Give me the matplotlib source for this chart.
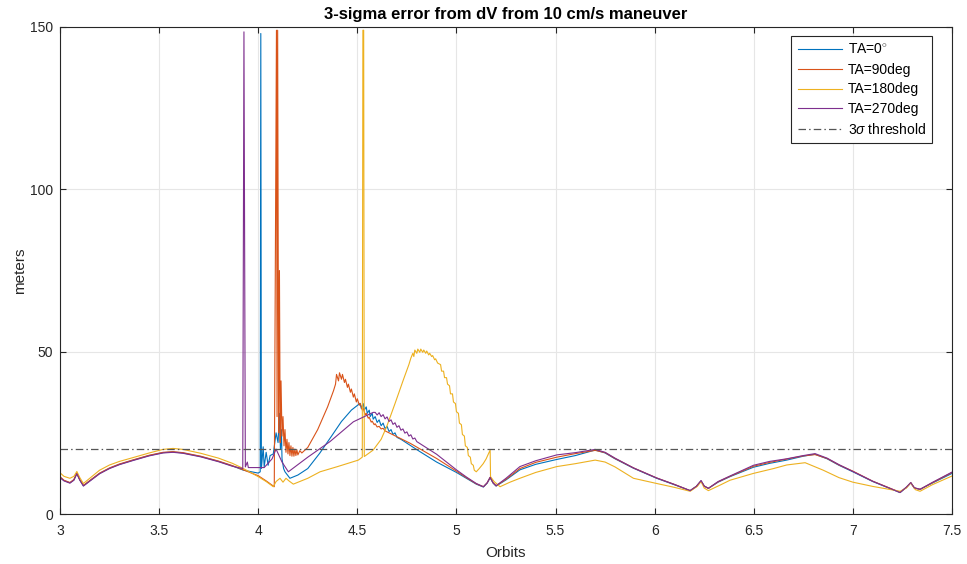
import matplotlib
matplotlib.use("Agg")
import matplotlib.pyplot as plt

plt.rcParams['font.family'] = ['Liberation Sans', 'DejaVu Sans']
plt.rcParams['mathtext.fontset'] = 'custom'
plt.rcParams['mathtext.it'] = 'Liberation Sans:italic'
plt.rcParams['mathtext.rm'] = 'Liberation Sans'

# ---------------- data ----------------
title = "3-sigma error from dV from 10 cm/s maneuver"
xlabel = "Orbits"
ylabel = "meters"
labels = ["TA=0$^{\\circ}$", "TA=90deg", "TA=180deg", "TA=270deg"]
threshold_label = "3$\\sigma$ threshold"
threshold = 20

ta0_x = [3.0, 3.02, 3.05, 3.07, 3.085, 3.1, 3.118, 3.15, 3.2, 3.25, 3.3, 3.37, 3.45, 3.52,
         3.57, 3.62, 3.71, 3.8, 3.87, 3.925, 4.0, 4.010, 4.013, 4.016,
         4.025, 4.03, 4.04, 4.05, 4.06, 4.076, 4.09, 4.1, 4.107, 4.112, 4.117, 4.12, 4.128,
         4.135, 4.16, 4.2, 4.25, 4.31, 4.37, 4.42, 4.47, 4.514, 4.52, 4.53, 4.535, 4.545,
         4.55, 4.56, 4.565, 4.575, 4.58, 4.59, 4.6, 4.61, 4.62, 4.63, 4.64, 4.65, 4.66,
         4.67, 4.68, 4.69, 4.7, 4.72, 4.816, 4.9, 5.0, 5.05, 5.1, 5.136, 5.155, 5.17,
         5.185, 5.2, 5.25, 5.32, 5.4, 5.506, 5.6, 5.7, 5.75, 5.8, 5.893, 6.01, 6.1, 6.179,
         6.21, 6.234, 6.25, 6.271, 6.32, 6.38, 6.498, 6.58, 6.666, 6.75, 6.809, 6.87, 6.93,
         7.0, 7.1, 7.238, 7.27, 7.292, 7.31, 7.339, 7.4, 7.5]
ta0_y = [11.3, 10.3, 9.6, 10.5, 12.5, 10.5, 8.7, 10.2, 12.5, 14.1, 15.3, 16.6, 18.0, 18.9,
         19.1, 18.8, 17.7, 16.2, 14.8, 13.5, 12.6, 13.0, 148.0, 14.0,
         20.7, 14.5, 19.0, 15.0, 18.0, 18.5, 25.0, 22.0, 31.0, 20.0, 26.0, 17.0, 14.0,
         13.0, 11.0, 12.0, 14.0, 18.7, 24.0, 28.5, 32.0, 34.1, 32.5, 34.0, 32.0, 33.0,
         31.0, 32.0, 30.0, 31.0, 29.2, 30.0, 28.2, 29.0, 27.2, 28.0, 26.3, 27.0, 25.4,
         26.0, 24.5, 25.0, 23.6, 23.0, 19.2, 16.0, 12.8, 11.0, 9.2, 8.3, 9.5, 11.2,
         9.5, 8.6, 10.5, 13.6, 15.3, 16.8, 18.0, 19.7, 18.8, 17.0, 14.1, 11.0, 9.0, 7.2,
         8.5, 10.2, 8.6, 7.9, 9.8, 11.5, 14.4, 15.6, 16.6, 17.8, 18.4, 17.0, 15.0,
         13.0, 10.0, 6.6, 8.2, 9.6, 8.0, 7.6, 9.5, 12.5]

ta90_x = [3.0, 3.02, 3.05, 3.07, 3.085, 3.1, 3.118, 3.15, 3.2, 3.25, 3.3, 3.37, 3.45, 3.52,
          3.57, 3.62, 3.71, 3.8, 3.87, 3.925, 4.0, 4.04, 4.081, 4.092, 4.095,
          4.098, 4.103, 4.107, 4.111, 4.115, 4.12, 4.125, 4.13, 4.135, 4.14, 4.145, 4.15,
          4.155, 4.16, 4.165, 4.17, 4.175, 4.18, 4.185, 4.19, 4.195, 4.2, 4.21, 4.22,
          4.25, 4.3, 4.35, 4.38, 4.39, 4.395, 4.405, 4.41, 4.42, 4.425, 4.435, 4.44, 4.45,
          4.455, 4.465, 4.47, 4.48, 4.485, 4.495, 4.5, 4.51, 4.515, 4.525, 4.53, 4.54,
          4.545, 4.555, 4.56, 4.57, 4.575, 4.585, 4.59, 4.6, 4.61, 4.62, 4.63, 4.64, 4.766,
          4.9, 5.0, 5.05, 5.1, 5.136, 5.155, 5.17, 5.185, 5.2, 5.25, 5.32, 5.4, 5.506, 5.6,
          5.7, 5.75, 5.8, 5.893, 6.01, 6.1, 6.179, 6.21, 6.234, 6.25, 6.271, 6.32, 6.38,
          6.498, 6.58, 6.666, 6.75, 6.809, 6.87, 6.93, 7.0, 7.1, 7.238, 7.27, 7.292, 7.31,
          7.339, 7.4, 7.5]
ta90_y = [11.5, 10.4, 9.7, 10.6, 12.6, 10.6, 8.8, 10.3, 12.6, 14.2, 15.4, 16.7, 18.1, 19.0,
          19.2, 18.9, 17.8, 16.3, 14.9, 13.6, 11.8, 10.2, 8.4, 149.0, 30.0,
          149.0, 25.0, 75.0, 22.0, 41.0, 24.0, 30.0, 21.0, 26.0, 19.0, 23.0, 18.5,
          22.0, 18.0, 21.0, 17.8, 20.5, 17.8, 20.0, 18.0, 19.8, 18.2, 19.5, 18.8,
          20.5, 26.0, 33.0, 38.0, 40.0, 43.0, 41.0, 43.5, 41.5, 43.0, 40.5, 41.5, 39.0,
          40.0, 37.5, 38.5, 36.0, 37.0, 34.5, 35.5, 33.5, 34.0, 32.0, 32.5, 30.5,
          31.0, 29.5, 29.8, 28.3, 28.6, 27.5, 27.8, 26.8, 27.0, 26.2, 26.4, 25.6, 21.8,
          17.1, 13.2, 11.2, 9.3, 8.4, 9.6, 11.3, 9.6, 8.7, 10.7, 14.0, 15.9, 17.5, 18.6,
          19.6, 18.9, 17.1, 14.2, 11.1, 9.1, 7.2, 8.5, 10.2, 8.6, 7.9, 9.9, 11.6,
          14.7, 15.9, 16.9, 17.9, 18.3, 17.1, 15.1, 13.2, 10.1, 6.7, 8.2, 9.6, 8.0,
          7.6, 9.6, 12.8]

ta180_x = [3.0, 3.02, 3.05, 3.07, 3.085, 3.1, 3.118, 3.15, 3.2, 3.25, 3.3, 3.37, 3.45, 3.52,
           3.57, 3.62, 3.71, 3.8, 3.87, 3.925, 4.0, 4.04, 4.076, 4.09, 4.11, 4.125,
           4.14, 4.155, 4.177, 4.25, 4.312, 4.4, 4.505, 4.525, 4.528, 4.532, 4.535, 4.58,
           4.62, 4.648, 4.69, 4.732, 4.76, 4.77, 4.78, 4.785, 4.79, 4.8, 4.805, 4.815, 4.82,
           4.83, 4.835, 4.845, 4.85, 4.86, 4.865, 4.875, 4.88, 4.89, 4.895, 4.905, 4.92,
           4.925, 4.935, 4.94, 4.95, 4.955, 4.965, 4.97, 4.98, 4.985, 4.995, 5.0, 5.01,
           5.015, 5.025, 5.03, 5.04, 5.045, 5.055, 5.06, 5.07, 5.075, 5.085, 5.09, 5.1,
           5.115, 5.135, 5.15, 5.17, 5.172, 5.19, 5.22, 5.27, 5.32, 5.4, 5.506, 5.6, 5.7,
           5.75, 5.8, 5.893, 6.01, 6.1, 6.179, 6.215, 6.234, 6.25, 6.271, 6.33, 6.38,
           6.498, 6.6, 6.666, 6.759, 6.85, 6.93, 7.0, 7.1, 7.238, 7.27, 7.292, 7.315,
           7.339, 7.4, 7.5]
ta180_y = [12.7, 11.6, 11.0, 11.6, 13.1, 11.2, 9.4, 11.0, 13.5, 15.1, 16.2, 17.4, 18.8, 19.9,
           20.2, 19.9, 18.7, 17.2, 15.6, 14.0, 11.5, 10.0, 8.4, 10.0, 11.0, 9.8,
           11.0, 10.2, 9.2, 11.0, 13.0, 14.6, 16.6, 17.5, 149.0, 149.0, 17.7, 19.7,
           23.0, 26.9, 34.0, 41.3, 46.0, 48.0, 49.5, 48.5, 50.5, 49.5, 50.8, 49.8, 50.8,
           49.8, 50.5, 49.5, 50.2, 49.0, 49.5, 48.5, 48.8, 47.5, 47.8, 46.5, 46.0,
           44.0, 44.0, 42.0, 42.0, 40.0, 39.5, 37.0, 37.0, 34.5, 34.0, 31.5, 31.0,
           28.0, 27.5, 24.5, 24.0, 21.0, 20.5, 18.0, 17.5, 15.5, 15.0, 13.5, 13.0,
           14.0, 15.5, 17.0, 19.7, 11.5, 10.0, 8.4, 9.8, 11.0, 12.8, 14.6, 15.5, 16.6,
           16.0, 14.5, 11.0, 9.4, 8.2, 7.0, 8.5, 10.0, 8.0, 7.2, 8.9, 10.4,
           12.5, 14.0, 15.1, 15.8, 13.5, 11.2, 9.8, 8.5, 7.0, 8.0, 9.6, 7.5,
           7.0, 9.0, 11.7]

ta270_x = [3.0, 3.02, 3.05, 3.07, 3.085, 3.1, 3.118, 3.15, 3.2, 3.25, 3.3, 3.37, 3.45, 3.52,
           3.57, 3.62, 3.71, 3.8, 3.87, 3.922, 3.928, 3.935, 3.945, 3.95,
           4.03, 4.07, 4.09, 4.12, 4.152, 4.25, 4.362, 4.48, 4.58, 4.59, 4.6, 4.61, 4.62,
           4.63, 4.64, 4.65, 4.66, 4.67, 4.68, 4.69, 4.7, 4.71, 4.72, 4.73, 4.74, 4.75, 4.76,
           4.77, 4.78, 4.79, 4.8, 4.9, 5.0, 5.05, 5.1, 5.136, 5.155, 5.17, 5.185, 5.2, 5.25,
           5.32, 5.4, 5.506, 5.6, 5.7, 5.75, 5.8, 5.893, 6.01, 6.1, 6.179, 6.21, 6.234, 6.25,
           6.271, 6.32, 6.38, 6.498, 6.58, 6.666, 6.75, 6.809, 6.87, 6.93, 7.0, 7.1, 7.238,
           7.27, 7.292, 7.31, 7.339, 7.4, 7.5]
ta270_y = [11.2, 10.2, 9.5, 10.4, 12.4, 10.4, 8.6, 10.1, 12.4, 14.0, 15.2, 16.5, 17.9, 18.8,
           19.0, 18.7, 17.6, 16.1, 14.7, 14.0, 148.5, 14.5, 16.0, 14.3,
           14.3, 17.0, 20.0, 16.0, 13.0, 17.5, 22.3, 28.4, 31.3, 31.3, 30.5, 31.2, 30.0,
           30.6, 29.3, 29.9, 28.5, 29.0, 27.6, 28.1, 26.7, 27.2, 25.8, 26.2, 24.9, 25.3, 24.0,
           24.4, 23.1, 23.4, 22.3, 18.4, 13.6, 11.4, 9.4, 8.4, 9.6, 11.3, 9.6, 8.7, 11.0,
           14.6, 16.4, 18.2, 18.9, 19.9, 19.0, 17.2, 14.2, 11.1, 9.1, 7.2, 8.5, 10.3, 8.6,
           7.9, 10.0, 11.7, 15.0, 16.2, 17.0, 18.0, 18.6, 17.2, 15.2, 13.1, 10.1, 6.6,
           8.3, 9.7, 8.1, 7.6, 9.7, 12.9]

x_ticks = [3, 3.5, 4, 4.5, 5, 5.5, 6, 6.5, 7, 7.5]
x_ticklabels = ["3", "3.5", "4", "4.5", "5", "5.5", "6", "6.5", "7", "7.5"]
y_ticks = [0, 50, 100, 150]

# ---------------- styling ----------------
colors = ["#0072BD", "#D95319", "#EDB120", "#7E2F8E"]
axcol = "#262626"

fig = plt.figure(figsize=(9.67, 5.64), dpi=100)
ax = fig.add_axes([60 / 967, 1 - 514 / 564, (952 - 60) / 967, (514 - 27) / 564])

series = [(ta0_x, ta0_y), (ta90_x, ta90_y), (ta180_x, ta180_y), (ta270_x, ta270_y)]
for (xs, ys), c, lab in zip(series, colors, labels):
    ax.plot(xs, ys, color=c, lw=0.8, label=lab)
ax.axhline(threshold, color="#555555", lw=0.9, ls=(0, (6, 2.5, 1.2, 2.5)), label=threshold_label)

ax.set_xlim(3, 7.5)
ax.set_ylim(0, 150)
ax.set_xticks(x_ticks)
ax.set_xticklabels(x_ticklabels)
ax.set_yticks(y_ticks)
ax.grid(True, color="#e6e6e6", lw=0.8)
ax.set_axisbelow(True)
for s in ax.spines.values():
    s.set_color(axcol)
    s.set_linewidth(0.8)
ax.tick_params(direction="in", length=4, width=0.8, colors=axcol, labelsize=10,
               top=True, right=True)
ax.tick_params(axis="x", pad=7)
ax.tick_params(axis="y", pad=5)

ax.set_title(title, fontsize=12, fontweight="bold", color="#000000", pad=6)
ax.set_xlabel(xlabel, fontsize=11, color=axcol, labelpad=6)
ax.set_ylabel(ylabel, fontsize=11, color=axcol, labelpad=2)

leg = ax.legend(loc="upper right", bbox_to_anchor=((932 - 60) / 892, (514 - 36) / 487),
                fontsize=10, frameon=True, fancybox=False, framealpha=1, edgecolor=axcol,
                handlelength=3.2, handletextpad=0.4, borderpad=0.45, labelspacing=0.42,
                borderaxespad=0)
leg.get_frame().set_linewidth(0.8)

fig.savefig("out.png", dpi=100)
